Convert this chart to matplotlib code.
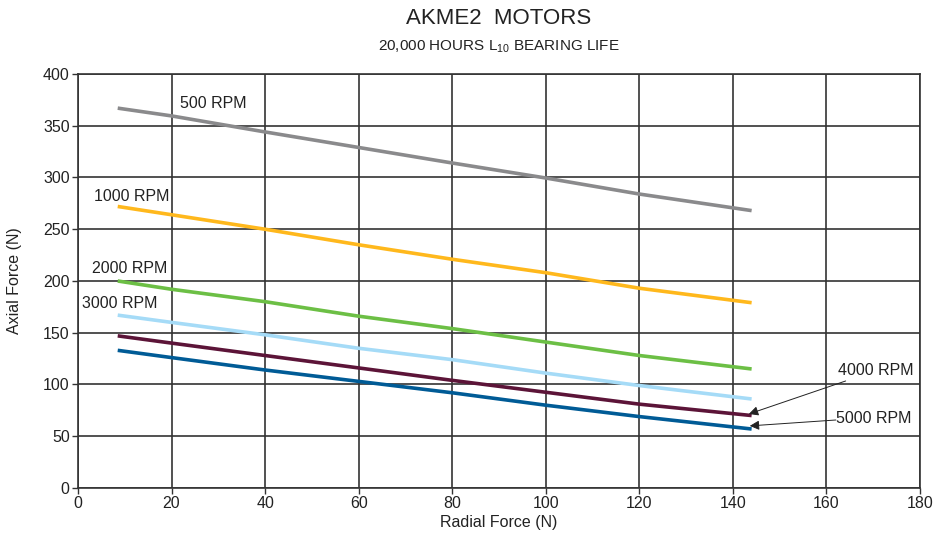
import matplotlib
matplotlib.use('Agg')
import matplotlib.pyplot as plt
from matplotlib import font_manager

# font: narrow helvetica look if available
names = {f.name for f in font_manager.fontManager.ttflist}
fam = 'Liberation Sans Narrow' if 'Liberation Sans Narrow' in names else 'Liberation Sans'
plt.rcParams['font.family'] = [fam, 'DejaVu Sans']
plt.rcParams['mathtext.fontset'] = 'custom'
plt.rcParams['mathtext.rm'] = fam
plt.rcParams['mathtext.default'] = 'regular'

# data
radial = [8.5, 20, 40, 60, 80, 100, 120, 144]
rpm_500 = [367, 359.5, 344, 329, 314, 299.5, 284, 268]
rpm_1000 = [272, 264, 250, 235, 221, 208, 193, 179]
rpm_2000 = [200, 192, 180, 166, 154, 141, 128, 115]
rpm_3000 = [167, 160, 148, 135, 124, 111, 99, 86]
rpm_4000 = [147, 140, 128, 116, 104, 92.5, 81, 70]
rpm_5000 = [133, 126, 114, 103, 92, 80, 69, 57]

series = [
    (rpm_500, '#8a8a8c'),
    (rpm_1000, '#ffb81c'),
    (rpm_2000, '#6cbf45'),
    (rpm_3000, '#a5dbf7'),
    (rpm_4000, '#5c1438'),
    (rpm_5000, '#005b96'),
]

fig = plt.figure(figsize=(9.37, 5.4), dpi=100)
ax = fig.add_axes([0.0832, 0.0963, 0.8987, 0.7667])

for vals, col in series:
    ax.plot(radial, vals, '-', color=col, lw=2.6, solid_capstyle='butt', zorder=3)

ax.set_xlim(0, 180)
ax.set_ylim(0, 400)
ax.set_xticks(range(0, 181, 20))
ax.set_yticks(range(0, 401, 50))
ax.grid(True, color='#333333', lw=1.2)
ax.set_axisbelow(True)
for s in ax.spines.values():
    s.set_color('#333333')
    s.set_linewidth(1.2)
ax.tick_params(direction='out', length=4, width=1, color='#333333',
               labelsize=11.5, labelcolor='#222222', pad=2)

ax.set_xlabel('Radial Force (N)', fontsize=11.5, color='#222222', labelpad=3)
ax.set_ylabel('Axial Force (N)', fontsize=11.5, color='#222222', labelpad=15)

# labels
txt = dict(fontsize=11.5, color='#222222', va='center', ha='left')
ax.text(21.8, 371, '500 RPM', **txt)
ax.text(3.4, 282, '1000 RPM', **txt)
ax.text(3.1, 211.6, '2000 RPM', **txt)
ax.text(0.8, 177.8, '3000 RPM', **txt)
ax.text(162.4, 114, '4000 RPM', **txt)
ax.text(162.0, 67.6, '5000 RPM', **txt)

arrow = dict(arrowstyle='-|>', color='#222222', lw=0.7, mutation_scale=14,
             shrinkA=0, shrinkB=0)
ax.annotate('', xy=(143.4, 71.5), xytext=(164.1, 103.4), arrowprops=arrow)
ax.annotate('', xy=(143.6, 60), xytext=(162, 65.7), arrowprops=arrow)

fig.text(0.532, 0.965, 'AKME2  MOTORS', ha='center', va='center',
         fontsize=16, color='#222222')
fig.text(0.532, 0.913, r'20,000 HOURS L$_{10}$ BEARING LIFE', ha='center',
         va='center', fontsize=11, color='#222222')

fig.savefig('out.png', dpi=100)
